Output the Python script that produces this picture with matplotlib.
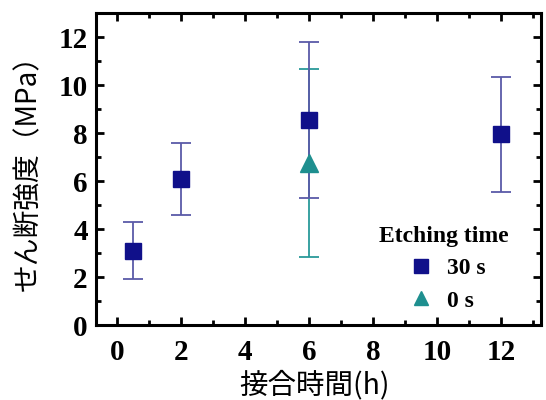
import matplotlib.pyplot as plt
from matplotlib.ticker import MultipleLocator

# data
hours_30s = [0.5, 2, 6, 12]
strength_30s = [3.1, 6.1, 8.55, 7.95]
err_30s = [1.2, 1.5, 3.25, 2.4]

hours_0s = [6]
strength_0s = [6.75]
err_0s = [3.9]

xticks = [0, 2, 4, 6, 8, 10, 12]
yticks = [0, 2, 4, 6, 8, 10, 12]

jp = ["Noto Sans CJK JP", "DejaVu Sans"]
serif = "Liberation Serif"

fig = plt.figure(figsize=(5.46, 4.0), dpi=100)
ax = fig.add_axes([96 / 546, 75 / 400, 445 / 546, 312 / 400])

ax.errorbar(hours_0s, strength_0s, yerr=err_0s, fmt="none",
            ecolor="#2a9a9a", elinewidth=1.3, capsize=7, capthick=1.3, zorder=2)
ax.errorbar(hours_30s, strength_30s, yerr=err_30s, fmt="none",
            ecolor="#5a5aa8", elinewidth=1.3, capsize=7, capthick=1.3, zorder=3)
sq, = ax.plot(hours_30s, strength_30s, "s", color="#10108a", ms=11.5,
              ls="none", zorder=4, label="30 s")
tri, = ax.plot(hours_0s, strength_0s, "^", color="#1e8f8f", ms=12.5,
               ls="none", zorder=3, label="0 s")

ax.set_xlim(-0.65, 13.25)
ax.set_ylim(0, 13)
ax.set_xticks(xticks)
ax.set_yticks(yticks)
ax.xaxis.set_minor_locator(MultipleLocator(1))
ax.yaxis.set_minor_locator(MultipleLocator(1))
ax.tick_params(which="both", direction="in", top=True, right=True, width=2)
ax.tick_params(which="major", length=6, labelsize=21, pad=6)
ax.tick_params(which="minor", length=3.5)
ax.tick_params(axis="x", which="major", pad=10)
for lab in ax.get_xticklabels() + ax.get_yticklabels():
    lab.set_family(serif)
    lab.set_fontweight("bold")
for s in ax.spines.values():
    s.set_linewidth(2.2)

ax.set_ylabel("せん断強度（MPa）", family=jp, fontsize=20)
ax.set_xlabel("接合時間(h)", family=jp, fontsize=20.5)
ax.yaxis.set_label_coords(-0.153, 0.51)
ax.xaxis.set_label_coords(0.49, -0.195)
ax.xaxis.label.set_va("center")
ax.yaxis.label.set_va("center")

leg = ax.legend(handles=[sq, tri], title="Etching time", loc="lower right",
                bbox_to_anchor=(0.975, -0.025), frameon=False,
                prop={"family": serif, "size": 17, "weight": "bold"},
                handletextpad=0.3, handlelength=1.6, labelspacing=0.45,
                markerscale=0.85)
leg.get_title().set_fontfamily(serif)
leg.get_title().set_fontsize(17)
leg.get_title().set_fontweight("bold")

fig.savefig("out.png", dpi=100)
